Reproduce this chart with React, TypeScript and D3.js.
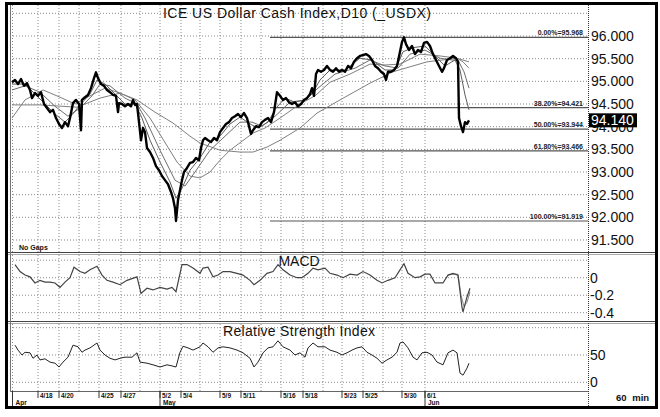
import * as d3 from 'd3'

// hourly bars counted from the left edge of the chart
const BARS = 1156

const TITLE = 'ICE US Dollar Cash Index,D10 (_USDX)'

const gridBars = [5, 56, 98, 138, 178, 222, 260, 300, 342, 380, 420, 462, 502, 542, 586, 626, 664, 706, 746, 784, 830]
const dayBars = [56, 98, 178, 222, 300, 342, 420, 462, 542, 586, 664, 706, 784, 830]
const dayLabels = ['4/18', '4/20', '4/25', '4/27', '5/2', '5/4', '5/9', '5/11', '5/16', '5/18', '5/23', '5/25', '5/30', '6/1']
const monthBars = [5, 300, 830]
const monthLabels = ['Apr', 'May', 'Jun']

const priceTicks = [91.5, 92, 92.5, 93, 93.5, 94, 94.5, 95, 95.5, 96]
const priceGrid = [91.5, 92, 92.5, 93, 93.5, 94, 94.5, 95, 95.5, 96, 96.5]
const LAST = 94.14

const fibPct = ['0.00%', '38.20%', '50.00%', '61.80%', '100.00%']
const fibLevel = [95.968, 94.421, 93.944, 93.466, 91.919]
const FIB_START = 520

const close: [number, number][] = [
  [4, 94.98], [10, 95.03], [16, 94.94], [22, 95.05], [28, 94.9], [34, 94.96], [40, 94.81], [44, 94.63],
  [50, 94.74], [56, 94.68], [62, 94.76], [68, 94.5], [74, 94.41], [80, 94.32], [86, 94.37], [92, 94.19],
  [98, 94.06], [104, 93.97], [110, 94.1], [116, 94.01], [120, 94.19], [126, 94.52], [132, 94.59], [138, 94.5],
  [142, 93.92], [144, 94.59], [150, 94.65], [156, 94.7], [162, 94.85], [168, 95.07], [172, 95.2], [176, 95.07],
  [182, 94.94], [188, 94.9], [194, 94.81], [200, 94.76], [206, 94.7], [212, 94.68], [216, 94.32], [218, 94.52],
  [224, 94.5], [230, 94.45], [236, 94.5], [242, 94.45], [246, 94.59], [250, 94.48], [254, 94.5], [258, 94.1],
  [262, 93.7], [266, 93.97], [270, 93.88], [274, 93.53], [280, 93.44], [286, 93.31], [292, 93.13], [298, 93.04],
  [304, 92.91], [310, 92.82], [316, 92.73], [322, 92.56], [326, 92.42], [330, 92.2], [332, 91.92], [336, 92.38],
  [340, 92.6], [344, 92.82], [348, 93.0], [354, 93.09], [360, 93.2], [366, 93.22], [372, 93.31], [378, 93.26],
  [382, 93.53], [386, 93.7], [390, 93.75], [396, 93.7], [402, 93.66], [408, 93.75], [414, 93.7], [420, 93.88],
  [426, 93.97], [432, 94.06], [438, 94.1], [444, 94.19], [450, 94.23], [456, 94.28], [462, 94.21], [468, 94.3],
  [474, 94.19], [478, 94.01], [482, 93.84], [486, 93.92], [492, 94.01], [498, 93.99], [504, 94.1], [510, 94.15],
  [516, 94.19], [522, 94.1], [528, 94.32], [534, 94.76], [540, 94.68], [546, 94.59], [552, 94.63], [558, 94.54],
  [564, 94.5], [570, 94.54], [576, 94.45], [582, 94.5], [588, 94.59], [594, 94.63], [600, 94.72], [604, 94.85],
  [608, 94.68], [612, 95.16], [616, 95.25], [622, 95.21], [628, 95.25], [634, 95.34], [640, 95.25], [646, 95.21],
  [652, 95.29], [658, 95.21], [664, 95.25], [670, 95.21], [676, 95.34], [682, 95.29], [688, 95.43], [694, 95.51],
  [700, 95.56], [706, 95.58], [712, 95.6], [718, 95.56], [724, 95.47], [730, 95.34], [736, 95.29], [742, 95.21],
  [748, 95.16], [752, 95.03], [756, 95.21], [762, 95.21], [768, 95.25], [774, 95.34], [780, 95.65], [784, 95.87],
  [788, 95.97], [792, 95.82], [798, 95.69], [804, 95.78], [810, 95.6], [816, 95.69], [822, 95.65], [828, 95.85],
  [834, 95.87], [840, 95.78], [846, 95.6], [852, 95.47], [858, 95.34], [864, 95.21], [868, 95.29], [874, 95.47],
  [880, 95.51], [886, 95.56], [892, 95.51], [896, 95.43], [898, 94.19], [902, 94.01], [906, 93.88], [910, 94.1],
  [914, 94.06], [918, 94.14],
]

const ma10: [number, number][] = [
  [4, 94.94], [30, 94.94], [50, 94.72], [70, 94.5], [90, 94.28], [110, 94.1], [124, 94.26], [140, 94.48],
  [160, 94.72], [174, 95.03], [190, 94.94], [210, 94.72], [230, 94.5], [250, 94.5], [264, 94.19], [280, 93.7],
  [300, 93.22], [320, 92.78], [332, 92.42], [344, 92.64], [360, 93.04], [380, 93.31], [400, 93.66], [420, 93.79],
  [440, 94.06], [460, 94.21], [480, 94.06], [496, 93.97], [516, 94.1], [532, 94.41], [550, 94.63], [570, 94.54],
  [590, 94.59], [604, 94.72], [620, 95.03], [640, 95.25], [670, 95.25], [700, 95.51], [724, 95.47], [750, 95.25],
  [770, 95.25], [786, 95.65], [804, 95.74], [830, 95.78], [850, 95.56], [870, 95.34], [890, 95.47], [900, 95.25],
  [910, 94.7], [918, 94.37],
]

const ma20: [number, number][] = [
  [4, 94.81], [30, 94.9], [60, 94.76], [90, 94.45], [116, 94.23], [140, 94.41], [164, 94.68], [180, 94.94],
  [200, 94.9], [230, 94.63], [254, 94.5], [270, 94.19], [300, 93.48], [330, 92.82], [350, 92.69], [370, 93.0],
  [400, 93.48], [430, 93.79], [460, 94.1], [484, 94.1], [504, 94.01], [530, 94.23], [560, 94.54], [590, 94.59],
  [616, 94.85], [650, 95.16], [690, 95.29], [720, 95.47], [750, 95.34], [776, 95.29], [800, 95.6], [830, 95.69],
  [860, 95.51], [884, 95.47], [896, 95.47], [908, 95.21], [918, 94.85],
]

const ma50: [number, number][] = [
  [4, 94.19], [30, 94.59], [66, 94.81], [100, 94.65], [130, 94.5], [160, 94.68], [190, 94.85], [220, 94.74],
  [250, 94.59], [280, 94.19], [300, 93.83], [334, 93.22], [360, 92.91], [380, 92.87], [400, 93.0], [420, 93.26],
  [440, 93.48], [486, 93.86], [510, 93.97], [540, 94.19], [580, 94.5], [610, 94.68], [640, 94.98], [680, 95.16],
  [720, 95.38], [750, 95.36], [780, 95.38], [820, 95.6], [860, 95.56], [894, 95.51], [906, 95.43], [918, 95.29],
]

const ma100: [number, number][] = [
  [4, 94.48], [60, 94.48], [134, 94.43], [180, 94.63], [220, 94.74], [254, 94.59], [290, 94.32], [326, 94.08],
  [360, 93.79], [380, 93.64], [420, 93.48], [460, 93.44], [486, 93.44], [514, 93.55], [540, 93.7], [580, 93.97],
  [614, 94.3], [660, 94.59], [720, 94.96], [766, 95.21], [834, 95.43], [894, 95.51], [918, 95.43],
]

const MACD_TICKS = [0, -0.2, -0.4]
const MACD_GRID = [0.2, 0, -0.2, -0.4]
const macd: [number, number][] = [
  [10, 0.15], [20, 0.07], [30, 0.03], [40, 0.01], [50, -0.06], [60, -0.03], [70, -0.05], [80, -0.05],
  [90, -0.06], [100, -0.11], [110, -0.05], [120, 0.0], [128, 0.12], [140, 0.07], [150, 0.05], [160, 0.09],
  [174, 0.13], [184, 0.03], [194, -0.03], [206, -0.05], [220, -0.08], [234, -0.03], [254, 0.01], [262, -0.18],
  [274, -0.12], [286, -0.14], [300, -0.11], [314, -0.13], [324, -0.11], [332, -0.16], [344, 0.15], [354, 0.15],
  [366, 0.11], [380, 0.05], [386, 0.11], [396, 0.12], [406, 0.01], [416, 0.03], [426, 0.07], [440, 0.07],
  [454, 0.05], [466, 0.03], [480, -0.03], [488, -0.08], [500, -0.03], [514, 0.05], [526, 0.07], [536, 0.15],
  [546, 0.09], [560, 0.03], [574, 0.0], [584, 0.0], [596, 0.05], [606, 0.11], [616, 0.09], [630, 0.11],
  [640, 0.05], [654, 0.03], [666, 0.0], [680, 0.04], [694, 0.03], [706, 0.07], [720, 0.03], [734, -0.03],
  [744, -0.06], [756, -0.03], [770, 0.0], [780, 0.09], [788, 0.16], [796, 0.05], [810, 0.0], [820, 0.01],
  [830, 0.04], [840, 0.04], [850, -0.06], [866, -0.06], [876, 0.03], [886, 0.05], [896, 0.03], [904, -0.34],
  [906, -0.39], [914, -0.22], [920, -0.12],
]
const macdSignal: [number, number][] = [
  [876, 0.03], [886, 0.04], [896, 0.04], [902, -0.2], [908, -0.33], [914, -0.28], [920, -0.16],
]

const RSI_TICKS = [50, 0]
const RSI_GRID = [100, 50, 0]
const rsi: [number, number][] = [
  [10, 68], [16, 59], [24, 50], [30, 55], [40, 54], [46, 44], [54, 50], [60, 41], [70, 43], [80, 37],
  [90, 35], [98, 28], [106, 37], [116, 46], [126, 68], [136, 65], [144, 55], [150, 59], [160, 63], [174, 72],
  [180, 59], [190, 50], [200, 44], [210, 41], [220, 44], [230, 46], [244, 46], [254, 54], [260, 37], [274, 35],
  [286, 32], [300, 28], [314, 32], [324, 30], [332, 28], [340, 55], [346, 66], [356, 63], [366, 59], [380, 65],
  [386, 72], [396, 65], [406, 55], [416, 63], [426, 65], [440, 63], [454, 59], [466, 54], [480, 44], [488, 28],
  [496, 37], [506, 54], [516, 63], [526, 65], [536, 76], [546, 65], [560, 59], [570, 50], [580, 54], [590, 46],
  [596, 63], [606, 72], [616, 65], [630, 65], [640, 59], [654, 55], [664, 50], [674, 54], [684, 59], [694, 63],
  [704, 65], [714, 55], [724, 50], [734, 44], [744, 35], [754, 41], [764, 46], [774, 55], [780, 72], [786, 74],
  [796, 63], [806, 46], [814, 41], [824, 54], [834, 55], [844, 50], [854, 37], [866, 32], [876, 54], [886, 59],
  [894, 54], [900, 17], [906, 13], [914, 26], [918, 35],
]

const FONT = '"Liberation Sans", Arial, sans-serif'

export default function App() {
  const L = 10, R = 588
  const x = d3.scaleLinear().domain([0, BARS]).range([L, R])
  const yP = d3.scaleLinear().domain([91.5, 96]).range([240, 36])
  const yM = d3.scaleLinear().domain([-0.4, 0]).range([312.7, 277.7])
  const yR = d3.scaleLinear().domain([0, 50]).range([382.3, 355])

  const path = (ys: d3.ScaleLinear<number, number>, data: [number, number][]) =>
    d3.line<[number, number]>().x(d => x(d[0])).y(d => ys(d[1]))(data) || ''

  const panels = [
    { id: 'cp', top: 5, bottom: 252 },
    { id: 'cm', top: 255, bottom: 321 },
    { id: 'cr', top: 324, bottom: 391 },
  ]

  const dotted = { stroke: '#8a8a8a', strokeWidth: 1, strokeDasharray: '1,2' }

  return (
    <div style={{ position: 'absolute', left: 0, top: 0 }}>
      <svg width={660} height={417} style={{ display: 'block', background: '#fff' }} fontFamily={FONT}>
        <defs>
          {panels.map(p => (
            <clipPath key={p.id} id={p.id}>
              <rect x={L} y={p.top} width={R - L} height={p.bottom - p.top} />
            </clipPath>
          ))}
        </defs>

        {/* vertical day grid */}
        {panels.map(p => gridBars.map(b => (
          <line key={p.id + b} x1={x(b)} x2={x(b)} y1={p.top} y2={p.bottom} {...dotted} />
        )))}

        {/* horizontal grids */}
        {priceGrid.map(v => (
          <line key={'pg' + v} x1={L} x2={R} y1={yP(v)} y2={yP(v)} {...dotted} />
        ))}
        {MACD_GRID.map(v => (
          <line key={'mg' + v} x1={L} x2={R} y1={yM(v)} y2={yM(v)} {...dotted} />
        ))}
        {RSI_GRID.map(v => (
          <line key={'rg' + v} x1={L} x2={R} y1={yR(v)} y2={yR(v)} {...dotted} />
        ))}

        {/* fibonacci retracement */}
        {fibLevel.map((v, i) => (
          <g key={'fib' + i}>
            <line x1={x(FIB_START)} x2={R} y1={yP(v)} y2={yP(v)} stroke="#555" strokeWidth={1.2} />
            <text x={R - 5} y={yP(v) - 2} textAnchor="end" fontSize={7} fontWeight="bold" fill="#222">
              {`${fibPct[i]}=${v.toFixed(3)}`}
            </text>
          </g>
        ))}

        {/* price panel */}
        <g clipPath="url(#cp)" fill="none">
          <path d={path(yP, ma100)} stroke="#808080" strokeWidth={1} />
          <path d={path(yP, ma50)} stroke="#808080" strokeWidth={1} />
          <path d={path(yP, ma20)} stroke="#6e6e6e" strokeWidth={1} />
          <path d={path(yP, ma10)} stroke="#5e5e5e" strokeWidth={1} />
          <path d={path(yP, close)} stroke="#000" strokeWidth={2.4} strokeLinejoin="round" />
        </g>
        <text x={297} y={18} textAnchor="middle" fontSize={14} fill="#111" textLength={268} lengthAdjust="spacing">
          {TITLE}
        </text>
        <text x={19} y={249.5} fontSize={7} fontWeight="bold" fill="#111">No  Gaps</text>

        {/* MACD panel */}
        <g clipPath="url(#cm)" fill="none">
          <path d={path(yM, macdSignal)} stroke="#888" strokeWidth={1} />
          <path d={path(yM, macd)} stroke="#444" strokeWidth={1.2} />
        </g>
        <text x={299} y={266} textAnchor="middle" fontSize={14} fill="#111">MACD</text>

        {/* RSI panel */}
        <g clipPath="url(#cr)" fill="none">
          <path d={path(yR, rsi)} stroke="#222" strokeWidth={1} />
        </g>
        <text x={299} y={336} textAnchor="middle" fontSize={14} fill="#111" textLength={152} lengthAdjust="spacing">
          Relative Strength Index
        </text>

        {/* right axis labels */}
        {priceTicks.map(v => (
          <text key={'pt' + v} x={591} y={yP(v) + 5} fontSize={14} fill="#111">{v.toFixed(3)}</text>
        ))}
        <rect x={589} y={yP(LAST) - 7} width={48} height={14} fill="#000" />
        <text x={591} y={yP(LAST) + 5} fontSize={14} fill="#fff">{LAST.toFixed(3)}</text>
        {MACD_TICKS.map(v => (
          <text key={'mt' + v} x={590} y={yM(v) + 5} fontSize={14} fill="#111">{v === 0 ? '0' : String(v)}</text>
        ))}
        {RSI_TICKS.map(v => (
          <text key={'rt' + v} x={590} y={yR(v) + 5} fontSize={14} fill="#111">{v}</text>
        ))}

        {/* panel separators */}
        {[252.5, 321.5].map(y => (
          <g key={'sep' + y}>
            <line x1={7} x2={656} y1={y} y2={y} stroke="#444" strokeWidth={1} />
            <line x1={7} x2={656} y1={y + 2} y2={y + 2} stroke="#aaa" strokeWidth={1} />
          </g>
        ))}
        <line x1={L} x2={R} y1={391.5} y2={391.5} stroke="#666" strokeWidth={1} />
        <line x1={R + 0.5} x2={R + 0.5} y1={5} y2={407} stroke="#333" strokeWidth={1} strokeDasharray="1,1" />
        <line x1={L + 0.5} x2={L + 0.5} y1={5} y2={391} stroke="#777" strokeWidth={1} />

        {/* date axis */}
        {dayBars.map((b, i) => (
          <g key={'d' + b}>
            <line x1={x(b)} x2={x(b)} y1={391} y2={398} stroke="#333" />
            <text x={x(b) + 2} y={397.5} fontSize={6.5} fontWeight="bold" fill="#111">{dayLabels[i]}</text>
          </g>
        ))}
        {monthBars.map((b, i) => (
          <g key={'m' + b}>
            <line x1={x(b)} x2={x(b)} y1={391} y2={407} stroke="#333" />
            <text x={x(b) + 3} y={405} fontSize={6.5} fontWeight="bold" fill="#111">{monthLabels[i]}</text>
          </g>
        ))}
        <text x={616} y={401} fontSize={9.5} fontWeight="bold" fill="#111" wordSpacing={3}>60 min</text>

        {/* outer frame */}
        <rect x={6.5} y={3.5} width={650} height={404} fill="none" stroke="#000" strokeWidth={3} />
      </svg>
    </div>
  )
}
